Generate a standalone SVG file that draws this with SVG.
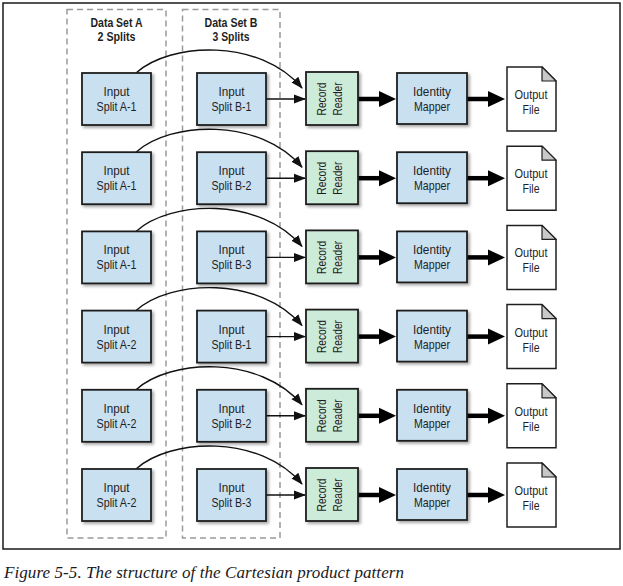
<svg xmlns="http://www.w3.org/2000/svg" width="623" height="586" viewBox="0 0 623 586">
<style>
.bg{fill:#ffffff}
.frame{fill:none;stroke:#1a1a1a;stroke-width:1.5}
.ds{fill:none;stroke:#9a9a9a;stroke-width:1.5;stroke-dasharray:6 4}
.box{fill:#c9e0f1;stroke:#1f1f1f;stroke-width:1.8;filter:url(#sh)}
.rr{fill:#cdebd9;stroke:#1f1f1f;stroke-width:1.8;filter:url(#sh)}
.file{fill:#ffffff;stroke:#1f1f1f;stroke-width:1.5}
.fold{fill:#c8c8c8;stroke:#1f1f1f;stroke-width:1.2;stroke-linejoin:round}
.t{font-family:"Liberation Sans",Arial,sans-serif;font-size:13px;fill:#1f1f1f;text-anchor:middle}
.title{font-family:"Liberation Sans",Arial,sans-serif;font-weight:bold;font-size:12.5px;fill:#1f1f1f;text-anchor:middle}
.cap{font-family:"Liberation Serif","Times New Roman",serif;font-style:italic;font-size:17px;fill:#1a1a1a}
.thin{fill:none;stroke:#111;stroke-width:1.4;marker-end:url(#ah)}
.thick{fill:none;stroke:#000;stroke-width:4.5;marker-end:url(#ahb)}
</style>
<defs>
<filter id="sh" x="-20%" y="-20%" width="150%" height="150%">
<feDropShadow dx="2" dy="2" stdDeviation="1.5" flood-color="#000" flood-opacity="0.35"/>
</filter>
<marker id="ah" markerUnits="userSpaceOnUse" markerWidth="12" markerHeight="12" viewBox="0 0 12 12" refX="11" refY="6" orient="auto">
<path d="M0,1.5 L12,6 L0,10.5 Z" fill="#111"/>
</marker>
<marker id="ahb" markerUnits="userSpaceOnUse" markerWidth="18" markerHeight="18" viewBox="0 0 18 18" refX="7" refY="9" orient="auto">
<path d="M0,1 L17,9 L0,17 Z" fill="#000"/>
</marker>
</defs>
<rect class="bg" x="0" y="0" width="623" height="586"/>
<rect class="frame" x="3" y="3" width="617" height="546"/>

<g id="datasetA">
<rect class="ds" x="67" y="9.5" width="99" height="528.5"/>
<text class="title" x="116.5" y="26.5" textLength="52" lengthAdjust="spacingAndGlyphs">Data Set A</text>
<text class="title" x="116.5" y="40.5" textLength="38" lengthAdjust="spacingAndGlyphs">2 Splits</text>
</g>
<g id="datasetB">
<rect class="ds" x="182.5" y="9.5" width="97.5" height="528.5"/>
<text class="title" x="231" y="26.5" textLength="53" lengthAdjust="spacingAndGlyphs">Data Set B</text>
<text class="title" x="231" y="40.5" textLength="37" lengthAdjust="spacingAndGlyphs">3 Splits</text>
</g>

<g id="connectors">
<path class="thin" d="M136,73 C170,42 260,38 302,88"/>
<path class="thin" d="M266,99 H305"/>
<path class="thick" d="M358,99 H386"/>
<path class="thick" d="M467,99 H495"/>

<path class="thin" d="M136,152.2 C170,121.2 260,117.2 302,167.2"/>
<path class="thin" d="M266,178.2 H305"/>
<path class="thick" d="M358,178.2 H386"/>
<path class="thick" d="M467,178.2 H495"/>

<path class="thin" d="M136,231.4 C170,200.4 260,196.4 302,246.4"/>
<path class="thin" d="M266,257.4 H305"/>
<path class="thick" d="M358,257.4 H386"/>
<path class="thick" d="M467,257.4 H495"/>

<path class="thin" d="M136,310.6 C170,279.6 260,275.6 302,325.6"/>
<path class="thin" d="M266,336.6 H305"/>
<path class="thick" d="M358,336.6 H386"/>
<path class="thick" d="M467,336.6 H495"/>

<path class="thin" d="M136,389.8 C170,358.8 260,354.8 302,404.8"/>
<path class="thin" d="M266,415.8 H305"/>
<path class="thick" d="M358,415.8 H386"/>
<path class="thick" d="M467,415.8 H495"/>

<path class="thin" d="M136,469 C170,438 260,434 302,484"/>
<path class="thin" d="M266,495 H305"/>
<path class="thick" d="M358,495 H386"/>
<path class="thick" d="M467,495 H495"/>
</g>

<!-- Row 1 -->
<g id="splitA1-r1" transform="translate(0,0)"><rect class="box" x="82" y="73" width="69" height="52"/><text class="t" x="116.5" y="96" textLength="26" lengthAdjust="spacingAndGlyphs">Input</text><text class="t" x="116.5" y="111" textLength="40" lengthAdjust="spacingAndGlyphs">Split A-1</text></g>
<g id="splitB1-r1" transform="translate(0,0)"><rect class="box" x="197" y="73" width="69" height="52"/><text class="t" x="231.5" y="96" textLength="26" lengthAdjust="spacingAndGlyphs">Input</text><text class="t" x="231.5" y="111" textLength="40" lengthAdjust="spacingAndGlyphs">Split B-1</text></g>
<g id="reader-r1" transform="translate(0,0)"><rect class="rr" x="306" y="72" width="52" height="53"/><g transform="translate(331,99) rotate(-90)"><text class="t" x="0" y="-5" textLength="33" lengthAdjust="spacingAndGlyphs">Record</text><text class="t" x="0" y="11" textLength="33" lengthAdjust="spacingAndGlyphs">Reader</text></g></g>
<g id="mapper-r1" transform="translate(0,0)"><rect class="box" x="397" y="73" width="70" height="51"/><text class="t" x="432" y="96" textLength="38" lengthAdjust="spacingAndGlyphs">Identity</text><text class="t" x="432" y="111" textLength="36" lengthAdjust="spacingAndGlyphs">Mapper</text></g>
<g id="output-r1" transform="translate(0,0)"><path class="file" d="M507,67 H542 L556,81 V131 H507 Z"/><path class="fold" d="M542,67 V81 H556 Z"/><text class="t" x="531" y="99" textLength="33" lengthAdjust="spacingAndGlyphs">Output</text><text class="t" x="531" y="114" textLength="17" lengthAdjust="spacingAndGlyphs">File</text></g>

<!-- Row 2 -->
<g id="splitA1-r2" transform="translate(0,79.2)"><rect class="box" x="82" y="73" width="69" height="52"/><text class="t" x="116.5" y="96" textLength="26" lengthAdjust="spacingAndGlyphs">Input</text><text class="t" x="116.5" y="111" textLength="40" lengthAdjust="spacingAndGlyphs">Split A-1</text></g>
<g id="splitB2-r2" transform="translate(0,79.2)"><rect class="box" x="197" y="73" width="69" height="52"/><text class="t" x="231.5" y="96" textLength="26" lengthAdjust="spacingAndGlyphs">Input</text><text class="t" x="231.5" y="111" textLength="40" lengthAdjust="spacingAndGlyphs">Split B-2</text></g>
<g id="reader-r2" transform="translate(0,79.2)"><rect class="rr" x="306" y="72" width="52" height="53"/><g transform="translate(331,99) rotate(-90)"><text class="t" x="0" y="-5" textLength="33" lengthAdjust="spacingAndGlyphs">Record</text><text class="t" x="0" y="11" textLength="33" lengthAdjust="spacingAndGlyphs">Reader</text></g></g>
<g id="mapper-r2" transform="translate(0,79.2)"><rect class="box" x="397" y="73" width="70" height="51"/><text class="t" x="432" y="96" textLength="38" lengthAdjust="spacingAndGlyphs">Identity</text><text class="t" x="432" y="111" textLength="36" lengthAdjust="spacingAndGlyphs">Mapper</text></g>
<g id="output-r2" transform="translate(0,79.2)"><path class="file" d="M507,67 H542 L556,81 V131 H507 Z"/><path class="fold" d="M542,67 V81 H556 Z"/><text class="t" x="531" y="99" textLength="33" lengthAdjust="spacingAndGlyphs">Output</text><text class="t" x="531" y="114" textLength="17" lengthAdjust="spacingAndGlyphs">File</text></g>

<!-- Row 3 -->
<g id="splitA1-r3" transform="translate(0,158.4)"><rect class="box" x="82" y="73" width="69" height="52"/><text class="t" x="116.5" y="96" textLength="26" lengthAdjust="spacingAndGlyphs">Input</text><text class="t" x="116.5" y="111" textLength="40" lengthAdjust="spacingAndGlyphs">Split A-1</text></g>
<g id="splitB3-r3" transform="translate(0,158.4)"><rect class="box" x="197" y="73" width="69" height="52"/><text class="t" x="231.5" y="96" textLength="26" lengthAdjust="spacingAndGlyphs">Input</text><text class="t" x="231.5" y="111" textLength="40" lengthAdjust="spacingAndGlyphs">Split B-3</text></g>
<g id="reader-r3" transform="translate(0,158.4)"><rect class="rr" x="306" y="72" width="52" height="53"/><g transform="translate(331,99) rotate(-90)"><text class="t" x="0" y="-5" textLength="33" lengthAdjust="spacingAndGlyphs">Record</text><text class="t" x="0" y="11" textLength="33" lengthAdjust="spacingAndGlyphs">Reader</text></g></g>
<g id="mapper-r3" transform="translate(0,158.4)"><rect class="box" x="397" y="73" width="70" height="51"/><text class="t" x="432" y="96" textLength="38" lengthAdjust="spacingAndGlyphs">Identity</text><text class="t" x="432" y="111" textLength="36" lengthAdjust="spacingAndGlyphs">Mapper</text></g>
<g id="output-r3" transform="translate(0,158.4)"><path class="file" d="M507,67 H542 L556,81 V131 H507 Z"/><path class="fold" d="M542,67 V81 H556 Z"/><text class="t" x="531" y="99" textLength="33" lengthAdjust="spacingAndGlyphs">Output</text><text class="t" x="531" y="114" textLength="17" lengthAdjust="spacingAndGlyphs">File</text></g>

<!-- Row 4 -->
<g id="splitA2-r4" transform="translate(0,237.6)"><rect class="box" x="82" y="73" width="69" height="52"/><text class="t" x="116.5" y="96" textLength="26" lengthAdjust="spacingAndGlyphs">Input</text><text class="t" x="116.5" y="111" textLength="40" lengthAdjust="spacingAndGlyphs">Split A-2</text></g>
<g id="splitB1-r4" transform="translate(0,237.6)"><rect class="box" x="197" y="73" width="69" height="52"/><text class="t" x="231.5" y="96" textLength="26" lengthAdjust="spacingAndGlyphs">Input</text><text class="t" x="231.5" y="111" textLength="40" lengthAdjust="spacingAndGlyphs">Split B-1</text></g>
<g id="reader-r4" transform="translate(0,237.6)"><rect class="rr" x="306" y="72" width="52" height="53"/><g transform="translate(331,99) rotate(-90)"><text class="t" x="0" y="-5" textLength="33" lengthAdjust="spacingAndGlyphs">Record</text><text class="t" x="0" y="11" textLength="33" lengthAdjust="spacingAndGlyphs">Reader</text></g></g>
<g id="mapper-r4" transform="translate(0,237.6)"><rect class="box" x="397" y="73" width="70" height="51"/><text class="t" x="432" y="96" textLength="38" lengthAdjust="spacingAndGlyphs">Identity</text><text class="t" x="432" y="111" textLength="36" lengthAdjust="spacingAndGlyphs">Mapper</text></g>
<g id="output-r4" transform="translate(0,237.6)"><path class="file" d="M507,67 H542 L556,81 V131 H507 Z"/><path class="fold" d="M542,67 V81 H556 Z"/><text class="t" x="531" y="99" textLength="33" lengthAdjust="spacingAndGlyphs">Output</text><text class="t" x="531" y="114" textLength="17" lengthAdjust="spacingAndGlyphs">File</text></g>

<!-- Row 5 -->
<g id="splitA2-r5" transform="translate(0,316.8)"><rect class="box" x="82" y="73" width="69" height="52"/><text class="t" x="116.5" y="96" textLength="26" lengthAdjust="spacingAndGlyphs">Input</text><text class="t" x="116.5" y="111" textLength="40" lengthAdjust="spacingAndGlyphs">Split A-2</text></g>
<g id="splitB2-r5" transform="translate(0,316.8)"><rect class="box" x="197" y="73" width="69" height="52"/><text class="t" x="231.5" y="96" textLength="26" lengthAdjust="spacingAndGlyphs">Input</text><text class="t" x="231.5" y="111" textLength="40" lengthAdjust="spacingAndGlyphs">Split B-2</text></g>
<g id="reader-r5" transform="translate(0,316.8)"><rect class="rr" x="306" y="72" width="52" height="53"/><g transform="translate(331,99) rotate(-90)"><text class="t" x="0" y="-5" textLength="33" lengthAdjust="spacingAndGlyphs">Record</text><text class="t" x="0" y="11" textLength="33" lengthAdjust="spacingAndGlyphs">Reader</text></g></g>
<g id="mapper-r5" transform="translate(0,316.8)"><rect class="box" x="397" y="73" width="70" height="51"/><text class="t" x="432" y="96" textLength="38" lengthAdjust="spacingAndGlyphs">Identity</text><text class="t" x="432" y="111" textLength="36" lengthAdjust="spacingAndGlyphs">Mapper</text></g>
<g id="output-r5" transform="translate(0,316.8)"><path class="file" d="M507,67 H542 L556,81 V131 H507 Z"/><path class="fold" d="M542,67 V81 H556 Z"/><text class="t" x="531" y="99" textLength="33" lengthAdjust="spacingAndGlyphs">Output</text><text class="t" x="531" y="114" textLength="17" lengthAdjust="spacingAndGlyphs">File</text></g>

<!-- Row 6 -->
<g id="splitA2-r6" transform="translate(0,396)"><rect class="box" x="82" y="73" width="69" height="52"/><text class="t" x="116.5" y="96" textLength="26" lengthAdjust="spacingAndGlyphs">Input</text><text class="t" x="116.5" y="111" textLength="40" lengthAdjust="spacingAndGlyphs">Split A-2</text></g>
<g id="splitB3-r6" transform="translate(0,396)"><rect class="box" x="197" y="73" width="69" height="52"/><text class="t" x="231.5" y="96" textLength="26" lengthAdjust="spacingAndGlyphs">Input</text><text class="t" x="231.5" y="111" textLength="40" lengthAdjust="spacingAndGlyphs">Split B-3</text></g>
<g id="reader-r6" transform="translate(0,396)"><rect class="rr" x="306" y="72" width="52" height="53"/><g transform="translate(331,99) rotate(-90)"><text class="t" x="0" y="-5" textLength="33" lengthAdjust="spacingAndGlyphs">Record</text><text class="t" x="0" y="11" textLength="33" lengthAdjust="spacingAndGlyphs">Reader</text></g></g>
<g id="mapper-r6" transform="translate(0,396)"><rect class="box" x="397" y="73" width="70" height="51"/><text class="t" x="432" y="96" textLength="38" lengthAdjust="spacingAndGlyphs">Identity</text><text class="t" x="432" y="111" textLength="36" lengthAdjust="spacingAndGlyphs">Mapper</text></g>
<g id="output-r6" transform="translate(0,396)"><path class="file" d="M507,67 H542 L556,81 V131 H507 Z"/><path class="fold" d="M542,67 V81 H556 Z"/><text class="t" x="531" y="99" textLength="33" lengthAdjust="spacingAndGlyphs">Output</text><text class="t" x="531" y="114" textLength="17" lengthAdjust="spacingAndGlyphs">File</text></g>

<text class="cap" x="4" y="578" textLength="400">Figure 5-5. The structure of the Cartesian product pattern</text>
</svg>
